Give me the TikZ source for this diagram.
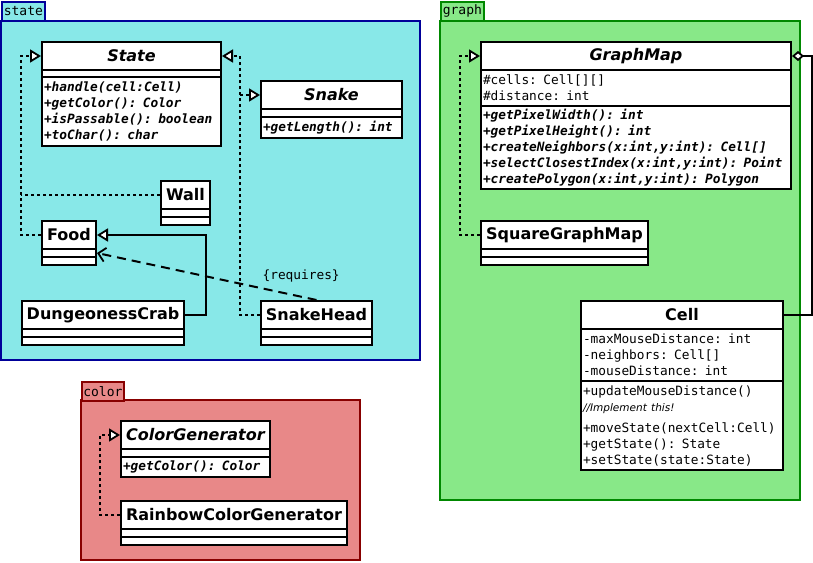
\documentclass[tikz,border=0pt]{standalone}
\usepackage{fontspec}
\setmainfont{DejaVu Sans}
\setmonofont{DejaVu Sans Mono}
\usetikzlibrary{arrows.meta,positioning,calc}
\definecolor{statefill}{HTML}{88E8E8}
\definecolor{statedraw}{HTML}{000099}
\definecolor{graphfill}{HTML}{88E888}
\definecolor{graphdraw}{HTML}{008800}
\definecolor{colorfill}{HTML}{E88888}
\definecolor{colordraw}{HTML}{880000}
\tikzset{
pkg/.style={line width=1.8pt},
pkgtab/.style={draw,line width=1.8pt,anchor=north west,inner sep=0pt,minimum height=19,font=\ttfamily\fontsize{13}{15}\selectfont},
ctitle/.style={draw,fill=white,line width=2pt,anchor=north west,inner sep=0pt,minimum height=28,font=\fontsize{16}{18}\selectfont\bfseries},
cpart/.style={draw,fill=white,line width=2pt,anchor=north west,inner xsep=2pt,inner ysep=0pt,align=left,font=\ttfamily\fontsize{12.8}{16}\selectfont},
abstract/.style={font=\ttfamily\bfseries\itshape\fontsize{12.8}{16}\selectfont},
realize/.style={-{Triangle[open,fill=white,length=11pt,width=13pt,line width=1.8pt]},dash pattern=on 3pt off 3pt,line width=2pt},
extend/.style={-{Triangle[open,fill=white,length=11pt,width=13pt,line width=1.8pt]},line width=2pt},
depend/.style={-{Straight Barb[length=7pt,width=14pt,line width=1.8pt]},dash pattern=on 9pt off 6pt,line width=2pt},
aggr/.style={{Diamond[open,fill=white,length=12pt,width=10pt,line width=1.8pt]}-,line width=2pt}
}

\begin{document}
\begin{tikzpicture}[x=1pt,y=-1pt]
			\useasboundingbox (0,0) rectangle (813,562);
			
			%packages
			\draw[pkg,draw=statedraw,fill=statefill] (1,21) rectangle (420,360);
			\node[pkgtab,draw=statedraw,fill=statefill,minimum width=43] (statetab) at (1,1) {state};
			
			\draw[pkg,draw=graphdraw,fill=graphfill] (440,21) rectangle (800,500);
			\node[pkgtab,draw=graphdraw,fill=graphfill,minimum width=43] (graphtab) at (440,1) {graph};
			
			\draw[pkg,draw=colordraw,fill=colorfill] (81,400) rectangle (360,560);
			\node[pkgtab,draw=colordraw,fill=colorfill,minimum width=42] (colortab) at (81,381) {color};
			
			%state classes
			\node[ctitle,minimum width=179] (state) at (41,41) {\itshape State};
			\node[cpart,text width=175,minimum height=7] (stateA) at (41,69) {};
			\node[cpart,abstract,text width=175,minimum height=69] (stateM) at (41,76)
				{+handle(cell:Cell)\\+getColor(): Color\\+isPassable(): boolean\\+toChar(): char};
			
			\node[ctitle,minimum width=141] (snake) at (260,80) {\itshape Snake};
			\node[cpart,text width=137,minimum height=8] (snakeA) at (260,108) {};
			\node[cpart,abstract,text width=137,minimum height=21] (snakeM) at (260,116) {+getLength(): int};
			
			\node[ctitle,minimum width=49] (wall) at (160,180) {Wall};
			\node[cpart,text width=45,minimum height=8] (wallA) at (160,208) {};
			\node[cpart,text width=45,minimum height=8] (wallM) at (160,216) {};
			
			\node[ctitle,minimum width=54] (food) at (41,220) {Food};
			\node[cpart,text width=50,minimum height=8] (foodA) at (41,248) {};
			\node[cpart,text width=50,minimum height=8] (foodM) at (41,256) {};
			
			\node[ctitle,minimum width=162] (crab) at (21,300) {DungeonessCrab};
			\node[cpart,text width=158,minimum height=8] (crabA) at (21,328) {};
			\node[cpart,text width=158,minimum height=8] (crabM) at (21,336) {};
			
			\node[ctitle,minimum width=111] (shead) at (260,300) {SnakeHead};
			\node[cpart,text width=107,minimum height=8] (sheadA) at (260,328) {};
			\node[cpart,text width=107,minimum height=8] (sheadM) at (260,336) {};
			
			%graph classes
			\node[ctitle,minimum width=310] (gmap) at (480,41) {\itshape GraphMap};
			\node[cpart,text width=306,minimum height=36] (gmapA) at (480,69)
				{\#cells: Cell[][]\\\#distance: int};
			\node[cpart,abstract,text width=306,minimum height=83] (gmapM) at (480,105)
				{+getPixelWidth(): int\\+getPixelHeight(): int\\+createNeighbors(x:int,y:int): Cell[]\\+selectClosestIndex(x:int,y:int): Point\\+createPolygon(x:int,y:int): Polygon};
			
			\node[ctitle,minimum width=167] (sqmap) at (480,220) {SquareGraphMap};
			\node[cpart,text width=163,minimum height=8] (sqmapA) at (480,248) {};
			\node[cpart,text width=163,minimum height=8] (sqmapM) at (480,256) {};
			
			\node[ctitle,minimum width=202] (cell) at (580,300) {Cell};
			\node[cpart,text width=198,minimum height=52] (cellA) at (580,328)
				{-maxMouseDistance: int\\-neighbors: Cell[]\\-mouseDistance: int};
			\node[cpart,text width=198,minimum height=89] (cellM) at (580,380)
				{+updateMouseDistance()\\{\rmfamily\itshape\fontsize{10.5}{16}\selectfont //Implement this!}\\[5pt]+moveState(nextCell:Cell)\\+getState(): State\\+setState(state:State)};
			
			%color classes
			\node[ctitle,minimum width=149] (cgen) at (120,420) {\itshape ColorGenerator};
			\node[cpart,text width=145,minimum height=8] (cgenA) at (120,448) {};
			\node[cpart,abstract,text width=145,minimum height=20] (cgenM) at (120,456) {+getColor(): Color};
			
			\node[ctitle,minimum width=226] (rainbow) at (120,500) {RainbowColorGenerator};
			\node[cpart,text width=222,minimum height=8] (rainbowA) at (120,528) {};
			\node[cpart,text width=222,minimum height=8] (rainbowM) at (120,536) {};
			
			%relations
			\draw[realize] (food.west) -- ++(-20,0) coordinate (fj) |- (state.west);
			\draw[dash pattern=on 3pt off 3pt,line width=2pt] (wall.west) -- (wall.west -| fj);
			\draw[realize] (shead.west) -- ++(-20,0) coordinate (sj) |- (state.east);
			\draw[realize] (sj |- snake.west) -- (snake.west);
			\draw[extend] (crab.east) -- ++(21,0) |- (food.east);
			\draw[depend] (shead.north) -- (foodA.east) node[pos=0.07,above=10pt,font=\ttfamily\fontsize{12.8}{15}\selectfont] (req) {\{requires\}};
			
			\draw[realize] (sqmap.west) -- ++(-20,0) |- (gmap.west);
			\draw[aggr] (gmap.east) -- ++(20,0) |- (cell.east);
			
			\draw[realize] (rainbow.west) -- ++(-20,0) |- (cgen.west);
			
\end{tikzpicture}
\end{document}
